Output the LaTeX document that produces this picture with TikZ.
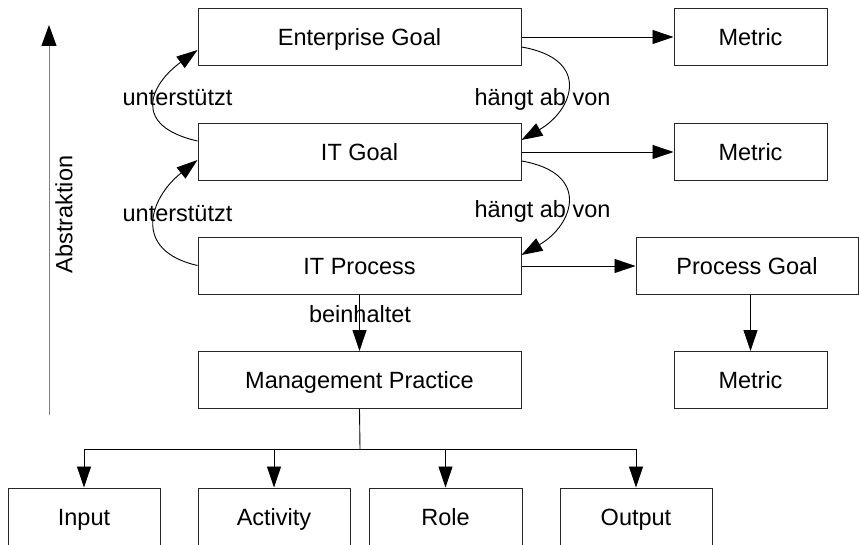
\documentclass[tikz,border=0pt]{standalone}
\usepackage{fontspec}
\setmainfont{Liberation Sans}
\usetikzlibrary{arrows.meta,calc}

\begin{document}
\begin{tikzpicture}[x=1pt,y=-1pt,
  txt/.style={font=\fontsize{23.5}{28}\selectfont, text=black,
              text height=16.8pt, text depth=0pt},
  box/.style={txt, draw=black!85, line width=1pt, fill=white, inner sep=0pt,
              minimum height=57pt},
  wide/.style={box, minimum width=323pt},
  small/.style={box, minimum width=153pt},
  leaf/.style={box, minimum width=152pt, minimum height=58pt},
  lbl/.style={txt, inner sep=0pt},
  arr/.style={line width=0.9pt, draw=black, -{Triangle[length=21pt,width=14pt]}},
  link/.style={line width=0.9pt, draw=black}]

\useasboundingbox (0,0) rectangle (859,545);

% main chain
\node[wide] (eg)  at (359.5,37)  {Enterprise Goal};
\node[wide] (itg) at (359.5,152) {IT Goal};
\node[wide] (itp) at (359.5,266) {IT Process};
\node[wide] (mp)  at (359.5,380) {Management Practice};

% metrics and process goal
\node[small] (m1) at (750.5,37)  {Metric};
\node[small] (m2) at (750.5,152) {Metric};
\node[box, minimum width=222pt] (pg) at (747,266) {Process Goal};
\node[small] (m3) at (750.5,380) {Metric};

% practice elements (cut by the lower page edge)
\node[leaf] (in)  at (84,517)    {Input};
\node[leaf] (act) at (274,517)   {Activity};
\node[leaf, minimum width=153pt] (role) at (445.5,517) {Role};
\node[leaf] (out) at (636,517)   {Output};

% abstraction axis
\node[lbl, rotate=90] (abs) at (64,214.5) {Abstraktion};
\coordinate (ab0) at (49,415);
\coordinate (ab1) at (49,25);
\draw[line width=1pt, draw=black!50, -{Triangle[length=21pt,width=15pt,color=black]}] (ab0) -- (ab1);

% straight links
\draw[arr] (eg.east)  -- (m1.west);
\draw[arr] (itg.east) -- (m2.west);
\draw[arr] (itp.east) -- (pg.west);
\draw[arr] (pg.south -| m3.north) -- (m3.north);
\draw[arr] (itp.south) -- (mp.north);

% "unterstuetzt" curves
\coordinate (u1s) at ($(itg.west)+(0,-11)$);
\coordinate (u1e) at ($(eg.west)+(0,13)$);
\draw[arr] (u1s) .. controls ($(u1s)+(-66,-15)$) and ($(u1e)+(-48,35)$) .. (u1e);
\coordinate (u2s) at ($(itp.west)+(0,-0.5)$);
\coordinate (u2e) at ($(itg.west)+(0,8)$);
\draw[arr] (u2s) .. controls ($(u2s)+(-66,-15)$) and ($(u2e)+(-48,38)$) .. (u2e);

% "haengt ab von" curves
\coordinate (h1s) at ($(eg.east)+(0,10)$);
\coordinate (h1e) at ($(itg.east)+(0,-12)$);
\draw[arr] (h1s) .. controls ($(h1s)+(70,12)$) and ($(h1e)+(52,-30)$) .. (h1e);
\coordinate (h2s) at ($(itg.east)+(0,9)$);
\coordinate (h2e) at ($(itp.east)+(0,-11)$);
\draw[arr] (h2s) .. controls ($(h2s)+(70,12)$) and ($(h2e)+(52,-30)$) .. (h2e);

% labels
\node[lbl] (lu1) at (177.5,97)  {unterstützt};
\node[lbl] (lu2) at (177.5,213) {unterstützt};
\node[lbl] (lh1) at (542.5,97)  {hängt ab von};
\node[lbl] (lh2) at (542.5,209) {hängt ab von};
\node[lbl] (lb)  at (360,314)   {beinhaltet};

% branching to practice elements
\coordinate (j) at ($(mp.south)+(0.5,40)$);
\draw[link] (mp.south) -- (j);
\draw[link] (in.north |- j) -- (out.north |- j);
\draw[arr] (in.north |- j)   -- (in.north);
\draw[arr] (act.north |- j)  -- (act.north);
\draw[arr] (role.north |- j) -- (role.north);
\draw[arr] (out.north |- j)  -- (out.north);
\end{tikzpicture}
\end{document}
